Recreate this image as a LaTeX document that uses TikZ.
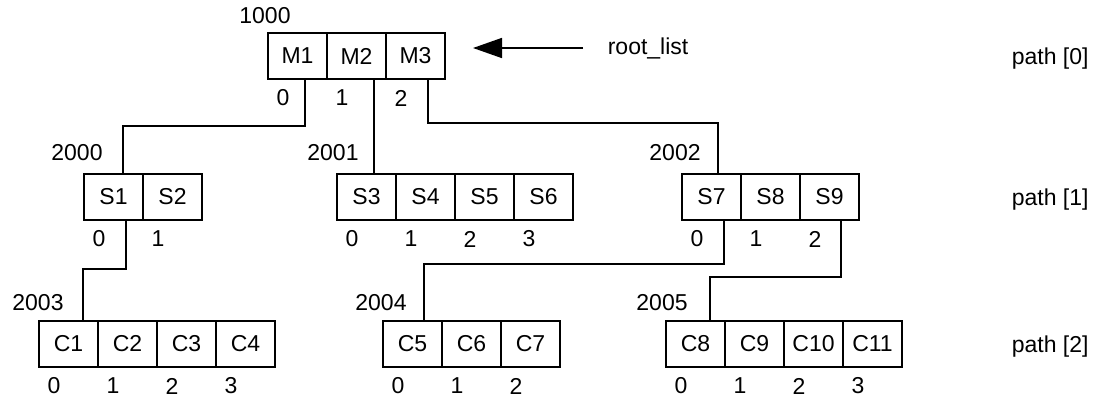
\documentclass[tikz,border=0pt]{standalone}
\usepackage{fontspec}
\setmainfont{Liberation Sans}
\usetikzlibrary{positioning, calc, arrows.meta}

\begin{document}
\begin{tikzpicture}[
            x = 1pt, y = -1pt, % pixel units, y runs downwards
            node distance = 0pt, % cells of one array touch
            line width = 1.6pt % line style
        ]

        \tikzset{
            cell/.style = {
                draw = black,
                minimum width = 59pt,
                minimum height = 46pt,
                inner sep = 0pt,
                outer sep = 0pt,
                font = \fontsize{23}{27}\selectfont
            },
            txt/.style = {inner sep = 0pt, font = \fontsize{23}{27}\selectfont},
            ptr/.style = {-{Triangle[length=29pt, width=20pt]}}
        }

        \useasboundingbox (0,0) rectangle (1094,402);

        % path [0]
        \node[cell] (m1) at (297.5,56) {M1};
        \node[cell] (m2) [right=of m1] {M2};
        \node[cell] (m3) [right=of m2] {M3};

        % path [1]
        \node[cell] (s1) at (113.5,197) {S1};
        \node[cell] (s2) [right=of s1] {S2};

        \node[cell] (s3) at (366.5,197) {S3};
        \node[cell] (s4) [right=of s3] {S4};
        \node[cell] (s5) [right=of s4] {S5};
        \node[cell] (s6) [right=of s5] {S6};

        \node[cell] (s7) at (711.5,197) {S7};
        \node[cell] (s8) [right=of s7] {S8};
        \node[cell] (s9) [right=of s8] {S9};

        % path [2]
        \node[cell] (c1) at (68.5,344) {C1};
        \node[cell] (c2) [right=of c1] {C2};
        \node[cell] (c3) [right=of c2] {C3};
        \node[cell] (c4) [right=of c3] {C4};

        \node[cell] (c5) at (412.5,344) {C5};
        \node[cell] (c6) [right=of c5] {C6};
        \node[cell] (c7) [right=of c6] {C7};

        \node[cell] (c8) at (695.5,344) {C8};
        \node[cell] (c9) [right=of c8] {C9};
        \node[cell] (c10) [right=of c9] {C10};
        \node[cell] (c11) [right=of c10] {C11};

        % addresses
        \node[txt] (a1000) at ($(m1.north west)+(-3,-17)$) {1000};
        \node[txt] (a2000) at ($(s1.north west)+(-7,-21)$) {2000};
        \node[txt] (a2001) at ($(s3.north west)+(-4,-21)$) {2001};
        \node[txt] (a2002) at ($(s7.north west)+(-7,-21)$) {2002};
        \node[txt] (a2003) at ($(c1.north west)+(-1,-18)$) {2003};
        \node[txt] (a2004) at ($(c5.north west)+(-2,-18)$) {2004};
        \node[txt] (a2005) at ($(c8.north west)+(-4,-18)$) {2005};

        % slot numbers
        \foreach \c/\i in {m1/0, m2/1, m3/2, s1/0, s2/1, s3/0, s4/1, s5/2, s6/3,
                s7/0, s8/1, s9/2, c1/0, c2/1, c3/2, c4/3, c5/0, c6/1, c7/2,
                c8/0, c9/1, c10/2, c11/3}
            \node[txt] (i-\c) at ($(\c.south west)+(15,19)$) {\i};

        % pointers
        \draw ($(m1.south)+(7.5,0)$) -- ++(0,47) -| ($(s1.north)+(9.5,0)$);
        \draw ($(m2.south)+(17.5,0)$) -- ($(s3.north)+(7.5,0)$);
        \draw ($(m3.south)+(12.5,0)$) -- ++(0,44) -| ($(s7.north)+(6.5,0)$);
        \draw ($(s1.south)+(12.5,0)$) -- ++(0,49) -| ($(c1.north)+(14.5,0)$);
        \draw ($(s7.south)+(12.5,0)$) -- ++(0,44) -| ($(c5.north)+(11.5,0)$);
        \draw ($(s9.south)+(11.5,0)$) -- ++(0,57) -| ($(c8.north)+(14.5,0)$);

        % root list
        \node[txt, anchor=west] (rootlist) at (607,48) {root\_list};
        \draw[ptr, shorten <=24pt, shorten >=28pt] (rootlist.west) -- (rootlist.west -| m3.east);

        % levels
        \node[txt, anchor=base west] (path0) at (1011,64) {path [0]};
        \node[txt, anchor=base west] (path1) at (1011,205) {path [1]};
        \node[txt, anchor=base west] (path2) at (1011,352) {path [2]};
    \end{tikzpicture}
\end{document}
